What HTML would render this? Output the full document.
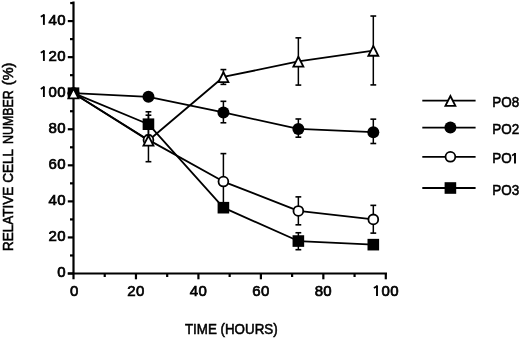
<!DOCTYPE html>
<html><head><meta charset="utf-8"><style>
html,body{margin:0;padding:0;background:#fff;}
svg{display:block;will-change:transform;}
text{font-family:"Liberation Sans",sans-serif;fill:#000;}
text.tk{font-weight:normal;font-size:15px;letter-spacing:0.35px;stroke:#000;stroke-width:0.7px;}
tspan.h{fill:none;stroke:none;}
text.lg{font-weight:normal;font-size:14.5px;stroke:#000;stroke-width:0.55px;}
text.t{font-weight:normal;font-size:14.5px;stroke:#000;stroke-width:0.55px;}
</style></head><body>
<svg width="520" height="338" viewBox="0 0 520 338">
<rect width="520" height="338" fill="#fff"/>
<line x1="73.5" y1="1.6" x2="73.5" y2="279.3" stroke="#000" stroke-width="2.2"/>
<line x1="67.8" y1="273.5" x2="387" y2="273.5" stroke="#000" stroke-width="2.2"/>
<line x1="67.8" y1="273.50" x2="73.5" y2="273.50" stroke="#000" stroke-width="2.2"/>
<text class="tk" transform="translate(65.9 277.10) scale(1.0 1)" text-anchor="end">0</text>
<line x1="70.0" y1="255.47" x2="73.5" y2="255.47" stroke="#000" stroke-width="2.2"/>
<line x1="67.8" y1="237.44" x2="73.5" y2="237.44" stroke="#000" stroke-width="2.2"/>
<text class="tk" transform="translate(65.9 241.04) scale(1.0 1)" text-anchor="end">20</text>
<line x1="70.0" y1="219.41" x2="73.5" y2="219.41" stroke="#000" stroke-width="2.2"/>
<line x1="67.8" y1="201.38" x2="73.5" y2="201.38" stroke="#000" stroke-width="2.2"/>
<text class="tk" transform="translate(65.9 204.98) scale(1.0 1)" text-anchor="end">40</text>
<line x1="70.0" y1="183.35" x2="73.5" y2="183.35" stroke="#000" stroke-width="2.2"/>
<line x1="67.8" y1="165.32" x2="73.5" y2="165.32" stroke="#000" stroke-width="2.2"/>
<text class="tk" transform="translate(65.9 168.92) scale(1.0 1)" text-anchor="end">60</text>
<line x1="70.0" y1="147.29" x2="73.5" y2="147.29" stroke="#000" stroke-width="2.2"/>
<line x1="67.8" y1="129.26" x2="73.5" y2="129.26" stroke="#000" stroke-width="2.2"/>
<text class="tk" transform="translate(65.9 132.86) scale(1.0 1)" text-anchor="end">80</text>
<line x1="70.0" y1="111.23" x2="73.5" y2="111.23" stroke="#000" stroke-width="2.2"/>
<line x1="67.8" y1="93.20" x2="73.5" y2="93.20" stroke="#000" stroke-width="2.2"/>
<text class="tk" transform="translate(65.9 96.80) scale(1.0 1)" text-anchor="end"><tspan class="h">1</tspan>00</text>
<path d="M43.90 86.50 V97.00" stroke="#000" stroke-width="1.9" fill="none"/><path d="M44.30 86.80 L40.80 88.90" stroke="#000" stroke-width="1.7" fill="none" stroke-linecap="butt"/>
<line x1="70.0" y1="75.17" x2="73.5" y2="75.17" stroke="#000" stroke-width="2.2"/>
<line x1="67.8" y1="57.14" x2="73.5" y2="57.14" stroke="#000" stroke-width="2.2"/>
<text class="tk" transform="translate(65.9 60.74) scale(1.0 1)" text-anchor="end"><tspan class="h">1</tspan>20</text>
<path d="M43.90 50.44 V60.94" stroke="#000" stroke-width="1.9" fill="none"/><path d="M44.30 50.74 L40.80 52.84" stroke="#000" stroke-width="1.7" fill="none" stroke-linecap="butt"/>
<line x1="70.0" y1="39.11" x2="73.5" y2="39.11" stroke="#000" stroke-width="2.2"/>
<line x1="67.8" y1="21.08" x2="73.5" y2="21.08" stroke="#000" stroke-width="2.2"/>
<text class="tk" transform="translate(65.9 24.68) scale(1.0 1)" text-anchor="end"><tspan class="h">1</tspan>40</text>
<path d="M43.90 14.38 V24.88" stroke="#000" stroke-width="1.9" fill="none"/><path d="M44.30 14.68 L40.80 16.78" stroke="#000" stroke-width="1.7" fill="none" stroke-linecap="butt"/>
<line x1="70.2" y1="3.05" x2="73.5" y2="3.05" stroke="#000" stroke-width="2.2"/>
<text class="tk" transform="translate(74.40 295.9) scale(1.0 1)" text-anchor="middle">0</text>
<line x1="104.73" y1="273.5" x2="104.73" y2="277.0" stroke="#000" stroke-width="2.2"/>
<line x1="135.96" y1="273.5" x2="135.96" y2="279.3" stroke="#000" stroke-width="2.2"/>
<text class="tk" transform="translate(135.96 295.9) scale(1.0 1)" text-anchor="middle">20</text>
<line x1="167.19" y1="273.5" x2="167.19" y2="277.0" stroke="#000" stroke-width="2.2"/>
<line x1="198.42" y1="273.5" x2="198.42" y2="279.3" stroke="#000" stroke-width="2.2"/>
<text class="tk" transform="translate(198.42 295.9) scale(1.0 1)" text-anchor="middle">40</text>
<line x1="229.65" y1="273.5" x2="229.65" y2="277.0" stroke="#000" stroke-width="2.2"/>
<line x1="260.88" y1="273.5" x2="260.88" y2="279.3" stroke="#000" stroke-width="2.2"/>
<text class="tk" transform="translate(260.88 295.9) scale(1.0 1)" text-anchor="middle">60</text>
<line x1="292.11" y1="273.5" x2="292.11" y2="277.0" stroke="#000" stroke-width="2.2"/>
<line x1="323.34" y1="273.5" x2="323.34" y2="279.3" stroke="#000" stroke-width="2.2"/>
<text class="tk" transform="translate(323.34 295.9) scale(1.0 1)" text-anchor="middle">80</text>
<line x1="354.57" y1="273.5" x2="354.57" y2="277.0" stroke="#000" stroke-width="2.2"/>
<line x1="385.80" y1="273.5" x2="385.80" y2="279.3" stroke="#000" stroke-width="2.2"/>
<text class="tk" transform="translate(385.80 295.9) scale(1.0 1)" text-anchor="middle"><tspan class="h">1</tspan>00</text>
<path d="M377.00 285.60 V296.10" stroke="#000" stroke-width="1.9" fill="none"/><path d="M377.40 285.90 L373.90 288.00" stroke="#000" stroke-width="1.7" fill="none" stroke-linecap="butt"/>
<path d="M73.50 93.20 L148.45 96.81 L223.40 112.49 L298.36 128.90 L373.31 132.14" fill="none" stroke="#000" stroke-width="1.8" stroke-linejoin="round"/>
<path d="M73.50 93.20 L148.45 139.90 L223.40 181.55 L298.36 210.94 L373.31 219.41" fill="none" stroke="#000" stroke-width="1.8" stroke-linejoin="round"/>
<path d="M73.50 93.20 L148.45 124.21 L223.40 207.69 L298.36 241.05 L373.31 244.65" fill="none" stroke="#000" stroke-width="1.8" stroke-linejoin="round"/>
<path d="M73.50 93.20 L148.45 140.44 L223.40 76.97 L298.36 61.47 L373.31 50.65" fill="none" stroke="#000" stroke-width="1.8" stroke-linejoin="round"/>
<line x1="223.40" y1="101.31" x2="223.40" y2="122.77" stroke="#000" stroke-width="1.5"/>
<line x1="220.50" y1="101.31" x2="226.30" y2="101.31" stroke="#000" stroke-width="1.6"/>
<line x1="220.50" y1="122.77" x2="226.30" y2="122.77" stroke="#000" stroke-width="1.6"/>
<line x1="298.36" y1="118.98" x2="298.36" y2="137.19" stroke="#000" stroke-width="1.5"/>
<line x1="295.46" y1="118.98" x2="301.26" y2="118.98" stroke="#000" stroke-width="1.6"/>
<line x1="295.46" y1="137.19" x2="301.26" y2="137.19" stroke="#000" stroke-width="1.6"/>
<line x1="373.31" y1="119.16" x2="373.31" y2="143.50" stroke="#000" stroke-width="1.5"/>
<line x1="370.41" y1="119.16" x2="376.21" y2="119.16" stroke="#000" stroke-width="1.6"/>
<line x1="370.41" y1="143.50" x2="376.21" y2="143.50" stroke="#000" stroke-width="1.6"/>
<circle cx="73.50" cy="93.20" r="6" fill="#000"/>
<circle cx="148.45" cy="96.81" r="6" fill="#000"/>
<circle cx="223.40" cy="112.49" r="6" fill="#000"/>
<circle cx="298.36" cy="128.90" r="6" fill="#000"/>
<circle cx="373.31" cy="132.14" r="6" fill="#000"/>
<line x1="148.45" y1="115.20" x2="148.45" y2="161.71" stroke="#000" stroke-width="1.5"/>
<line x1="145.55" y1="115.20" x2="151.35" y2="115.20" stroke="#000" stroke-width="1.6"/>
<line x1="145.55" y1="161.71" x2="151.35" y2="161.71" stroke="#000" stroke-width="1.6"/>
<line x1="223.40" y1="153.60" x2="223.40" y2="209.49" stroke="#000" stroke-width="1.5"/>
<line x1="220.50" y1="153.60" x2="226.30" y2="153.60" stroke="#000" stroke-width="1.6"/>
<line x1="220.50" y1="209.49" x2="226.30" y2="209.49" stroke="#000" stroke-width="1.6"/>
<line x1="298.36" y1="196.87" x2="298.36" y2="224.82" stroke="#000" stroke-width="1.5"/>
<line x1="295.46" y1="196.87" x2="301.26" y2="196.87" stroke="#000" stroke-width="1.6"/>
<line x1="295.46" y1="224.82" x2="301.26" y2="224.82" stroke="#000" stroke-width="1.6"/>
<line x1="373.31" y1="205.35" x2="373.31" y2="233.11" stroke="#000" stroke-width="1.5"/>
<line x1="370.41" y1="205.35" x2="376.21" y2="205.35" stroke="#000" stroke-width="1.6"/>
<line x1="370.41" y1="233.11" x2="376.21" y2="233.11" stroke="#000" stroke-width="1.6"/>
<circle cx="73.50" cy="93.20" r="4.9" fill="#fff" stroke="#000" stroke-width="1.8"/>
<circle cx="148.45" cy="139.90" r="4.9" fill="#fff" stroke="#000" stroke-width="1.8"/>
<circle cx="223.40" cy="181.55" r="4.9" fill="#fff" stroke="#000" stroke-width="1.8"/>
<circle cx="298.36" cy="210.94" r="4.9" fill="#fff" stroke="#000" stroke-width="1.8"/>
<circle cx="373.31" cy="219.41" r="4.9" fill="#fff" stroke="#000" stroke-width="1.8"/>
<line x1="148.45" y1="111.77" x2="148.45" y2="135.21" stroke="#000" stroke-width="1.5"/>
<line x1="145.55" y1="111.77" x2="151.35" y2="111.77" stroke="#000" stroke-width="1.6"/>
<line x1="145.55" y1="135.21" x2="151.35" y2="135.21" stroke="#000" stroke-width="1.6"/>
<line x1="298.36" y1="232.75" x2="298.36" y2="249.70" stroke="#000" stroke-width="1.5"/>
<line x1="295.46" y1="232.75" x2="301.26" y2="232.75" stroke="#000" stroke-width="1.6"/>
<line x1="295.46" y1="249.70" x2="301.26" y2="249.70" stroke="#000" stroke-width="1.6"/>
<rect x="67.70" y="87.40" width="11.6" height="11.6" fill="#000"/>
<rect x="142.65" y="118.41" width="11.6" height="11.6" fill="#000"/>
<rect x="217.60" y="201.89" width="11.6" height="11.6" fill="#000"/>
<rect x="292.56" y="235.25" width="11.6" height="11.6" fill="#000"/>
<rect x="367.51" y="238.85" width="11.6" height="11.6" fill="#000"/>
<line x1="223.40" y1="69.58" x2="223.40" y2="84.37" stroke="#000" stroke-width="1.5"/>
<line x1="220.50" y1="69.58" x2="226.30" y2="69.58" stroke="#000" stroke-width="1.6"/>
<line x1="220.50" y1="84.37" x2="226.30" y2="84.37" stroke="#000" stroke-width="1.6"/>
<line x1="298.36" y1="37.85" x2="298.36" y2="85.09" stroke="#000" stroke-width="1.5"/>
<line x1="295.46" y1="37.85" x2="301.26" y2="37.85" stroke="#000" stroke-width="1.6"/>
<line x1="295.46" y1="85.09" x2="301.26" y2="85.09" stroke="#000" stroke-width="1.6"/>
<line x1="373.31" y1="16.03" x2="373.31" y2="84.91" stroke="#000" stroke-width="1.5"/>
<line x1="370.41" y1="16.03" x2="376.21" y2="16.03" stroke="#000" stroke-width="1.6"/>
<line x1="370.41" y1="84.91" x2="376.21" y2="84.91" stroke="#000" stroke-width="1.6"/>
<path d="M73.50 88.50 L78.50 98.30 L68.50 98.30 Z" fill="#fff" stroke="#000" stroke-width="1.8" stroke-linejoin="miter"/>
<path d="M148.45 135.74 L153.45 145.54 L143.45 145.54 Z" fill="#fff" stroke="#000" stroke-width="1.8" stroke-linejoin="miter"/>
<path d="M223.40 72.27 L228.40 82.07 L218.40 82.07 Z" fill="#fff" stroke="#000" stroke-width="1.8" stroke-linejoin="miter"/>
<path d="M298.36 56.77 L303.36 66.57 L293.36 66.57 Z" fill="#fff" stroke="#000" stroke-width="1.8" stroke-linejoin="miter"/>
<path d="M373.31 45.95 L378.31 55.75 L368.31 55.75 Z" fill="#fff" stroke="#000" stroke-width="1.8" stroke-linejoin="miter"/>
<line x1="422.3" y1="100.7" x2="475.6" y2="100.7" stroke="#000" stroke-width="1.8"/>
<path d="M450.40 96.00 L455.40 105.80 L445.40 105.80 Z" fill="#fff" stroke="#000" stroke-width="1.8" stroke-linejoin="miter"/>
<text class="lg" transform="translate(492.3 107.30) scale(0.93 1)">PO8</text>
<line x1="422.3" y1="127.6" x2="475.6" y2="127.6" stroke="#000" stroke-width="1.8"/>
<circle cx="450.40" cy="127.60" r="6" fill="#000"/>
<text class="lg" transform="translate(492.3 134.20) scale(0.93 1)">PO2</text>
<line x1="422.3" y1="156.8" x2="475.6" y2="156.8" stroke="#000" stroke-width="1.8"/>
<circle cx="450.40" cy="156.80" r="4.9" fill="#fff" stroke="#000" stroke-width="1.8"/>
<text class="lg" transform="translate(492.3 163.40) scale(0.93 1)">PO<tspan class="h">1</tspan></text>
<path d="M515.00 153.10 V163.60" stroke="#000" stroke-width="1.9" fill="none"/><path d="M515.40 153.40 L512.10 155.60" stroke="#000" stroke-width="1.7" fill="none" stroke-linecap="butt"/>
<line x1="422.3" y1="188.0" x2="475.6" y2="188.0" stroke="#000" stroke-width="1.8"/>
<rect x="444.60" y="182.20" width="11.6" height="11.6" fill="#000"/>
<text class="lg" transform="translate(492.3 194.60) scale(0.93 1)">PO3</text>
<text class="t" transform="translate(184.9 334.0) scale(0.922 1)">TIME (HOURS)</text>
<text class="t" transform="translate(12.6 251.0) rotate(-90) scale(0.933 1)">RELATIVE CELL</text>
<text class="t" transform="translate(12.6 144.0) rotate(-90) scale(0.855 1)">NUMBER</text>
<text class="t" transform="translate(12.6 85.2) rotate(-90) scale(1.0 1)">(%)</text>
</svg>
</body></html>
